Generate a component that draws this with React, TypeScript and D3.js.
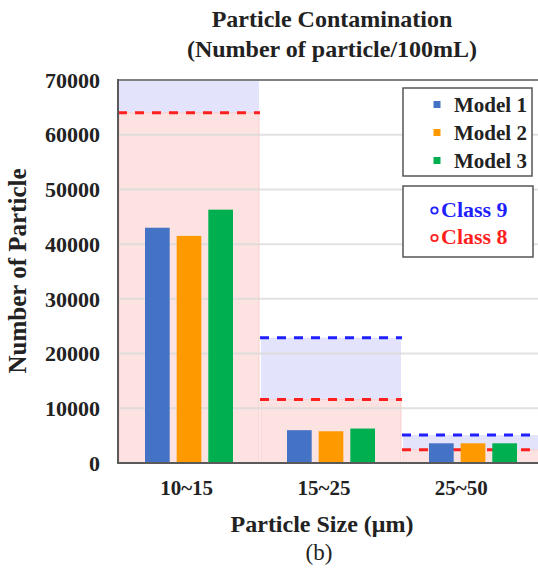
import React from 'react';
import * as d3 from 'd3';

// particle size bins
const categories = ['10~15', '15~25', '25~50'];
const models = ['Model 1', 'Model 2', 'Model 3'];
const model1 = [43000, 6000, 3600];
const model2 = [41500, 5800, 3600];
const model3 = [46300, 6300, 3600];
// cleanliness class limits
const class9 = [128000, 22900, 5100];
const class8 = [64000, 11600, 2400];
const yTicks = [0, 10000, 20000, 30000, 40000, 50000, 60000, 70000];

const modelColors = ['#4472C4', '#FF9900', '#00B050'];
const series = [model1, model2, model3];

const W = 538;
const H = 570;
const left = 118;
const right = 544;
const top = 80;
const bottom = 463;
const font = '"Liberation Serif", "Times New Roman", serif';

const App = () => {
  const x = d3.scaleBand().domain(categories).range([left, right]);
  const xLabel = d3.scaleBand().domain(categories).range([left, 530]);
  const groupW = 88;
  const xInner = d3.scaleBand().domain(models).range([0, groupW]).paddingInner(0.22);
  const y = d3.scaleLinear().domain([0, 70000]).range([bottom, top]);
  const bw = x.bandwidth();
  const off = (bw - groupW) / 2;

  return (
    <svg
      width={W}
      height={H}
      style={{ position: 'absolute', left: 0, top: 0, background: '#fff' }}
      fontFamily={font}
    >
      <defs>
        <clipPath id="plotClip">
          <rect x={left} y={top} width={right - left} height={bottom - top} />
        </clipPath>
      </defs>

      {/* title */}
      <text x={332} y={27} textAnchor="middle" fontSize={24} fontWeight="bold" fill="#222">
        Particle Contamination
      </text>
      <text x={332} y={57} textAnchor="middle" fontSize={24} fontWeight="bold" fill="#222">
        (Number of particle/100mL)
      </text>

      <g clipPath="url(#plotClip)">
        {/* class regions */}
        {categories.map((c, i) => (
          <g key={'shade' + c}>
            <rect
              x={x(c)! + 1}
              width={bw - 2}
              y={y(class9[i])}
              height={y(class8[i]) - y(class9[i])}
              fill="#E3E3FB"
            />
            <rect
              x={x(c)! + 1}
              width={bw - 2}
              y={y(class8[i])}
              height={bottom - y(class8[i])}
              fill="#FDE2E2"
              stroke="#F9CFCF"
              strokeWidth={1}
            />
          </g>
        ))}

        {/* gridlines */}
        {yTicks.slice(1, -1).map((t) => (
          <line
            key={'g' + t}
            x1={left}
            x2={right}
            y1={y(t)}
            y2={y(t)}
            stroke="#D9D9D9"
            strokeOpacity={0.8}
            strokeWidth={2}
          />
        ))}

        {/* class limit dashes */}
        {categories.map((c, i) => (
          <g key={'dash' + c}>
            <line
              x1={x(c)!}
              x2={x(c)! + bw}
              y1={y(class9[i])}
              y2={y(class9[i])}
              stroke="#1F1FFF"
              strokeWidth={3}
              strokeDasharray="9,8"
            />
            <line
              x1={x(c)!}
              x2={x(c)! + bw}
              y1={y(class8[i])}
              y2={y(class8[i])}
              stroke="#FF1F1F"
              strokeWidth={3}
              strokeDasharray="9,8"
            />
          </g>
        ))}

        {/* bars */}
        {categories.map((c, i) => (
          <g key={'bars' + c} transform={`translate(${x(c)! + off},0)`}>
            {models.map((m, j) => (
              <rect
                key={m}
                x={xInner(m)}
                width={xInner.bandwidth()}
                y={y(series[j][i])}
                height={bottom - y(series[j][i])}
                fill={modelColors[j]}
              />
            ))}
          </g>
        ))}
      </g>

      {/* frame */}
      <line x1={left} x2={right} y1={top} y2={top} stroke="#808080" strokeWidth={2} />
      <line x1={left} x2={left} y1={top - 1} y2={bottom + 1} stroke="#5A5A5A" strokeWidth={2} />
      <line x1={left} x2={right} y1={bottom} y2={bottom} stroke="#5A5A5A" strokeWidth={2} />

      {/* y ticks */}
      {yTicks.map((t) => (
        <text
          key={'yt' + t}
          x={100}
          y={y(t)}
          dy="0.35em"
          textAnchor="end"
          fontSize={22}
          fontWeight="bold"
          fill="#222"
        >
          {t}
        </text>
      ))}
      <text
        transform={`translate(26,${271}) rotate(-90)`}
        textAnchor="middle"
        fontSize={25}
        fontWeight="bold"
        fill="#222"
      >
        Number of Particle
      </text>

      {/* x ticks */}
      {categories.map((c) => (
        <text
          key={'xt' + c}
          x={xLabel(c)! + xLabel.bandwidth() / 2}
          y={495}
          textAnchor="middle"
          fontSize={21}
          fontWeight="bold"
          fill="#222"
        >
          {c}
        </text>
      ))}
      <text x={322} y={532} textAnchor="middle" fontSize={24} fontWeight="bold" fill="#222">
        Particle Size (μm)
      </text>
      <text x={319} y={560} textAnchor="middle" fontSize={23} fill="#222">
        (b)
      </text>

      {/* legend: models */}
      <rect x={403} y={88} width={129} height={88} fill="#fff" stroke="#555" strokeWidth={1.5} />
      {models.map((m, j) => (
        <g key={'lg' + m} transform={`translate(0,${104.5 + j * 28})`}>
          <rect x={433.5} y={-3.5} width={7} height={7} fill={modelColors[j]} />
          <text x={454} y={0} dy="0.35em" fontSize={21} fontWeight="bold" fill="#222">
            {m}
          </text>
        </g>
      ))}

      {/* legend: classes */}
      <rect x={403} y={186} width={130} height={71} fill="#fff" stroke="#555" strokeWidth={1.5} />
      {[
        { label: 'Class 9', color: '#1F1FFF' },
        { label: 'Class 8', color: '#FF1F1F' },
      ].map((d, k) => (
        <g key={d.label} transform={`translate(0,${209 + k * 27.5})`}>
          <circle cx={434.5} cy={1.5} r={3.2} fill="none" stroke={d.color} strokeWidth={1.8} />
          <text x={441} y={0} dy="0.35em" fontSize={22} fontWeight="bold" fill={d.color}>
            {d.label}
          </text>
        </g>
      ))}
    </svg>
  );
};

export default App;
